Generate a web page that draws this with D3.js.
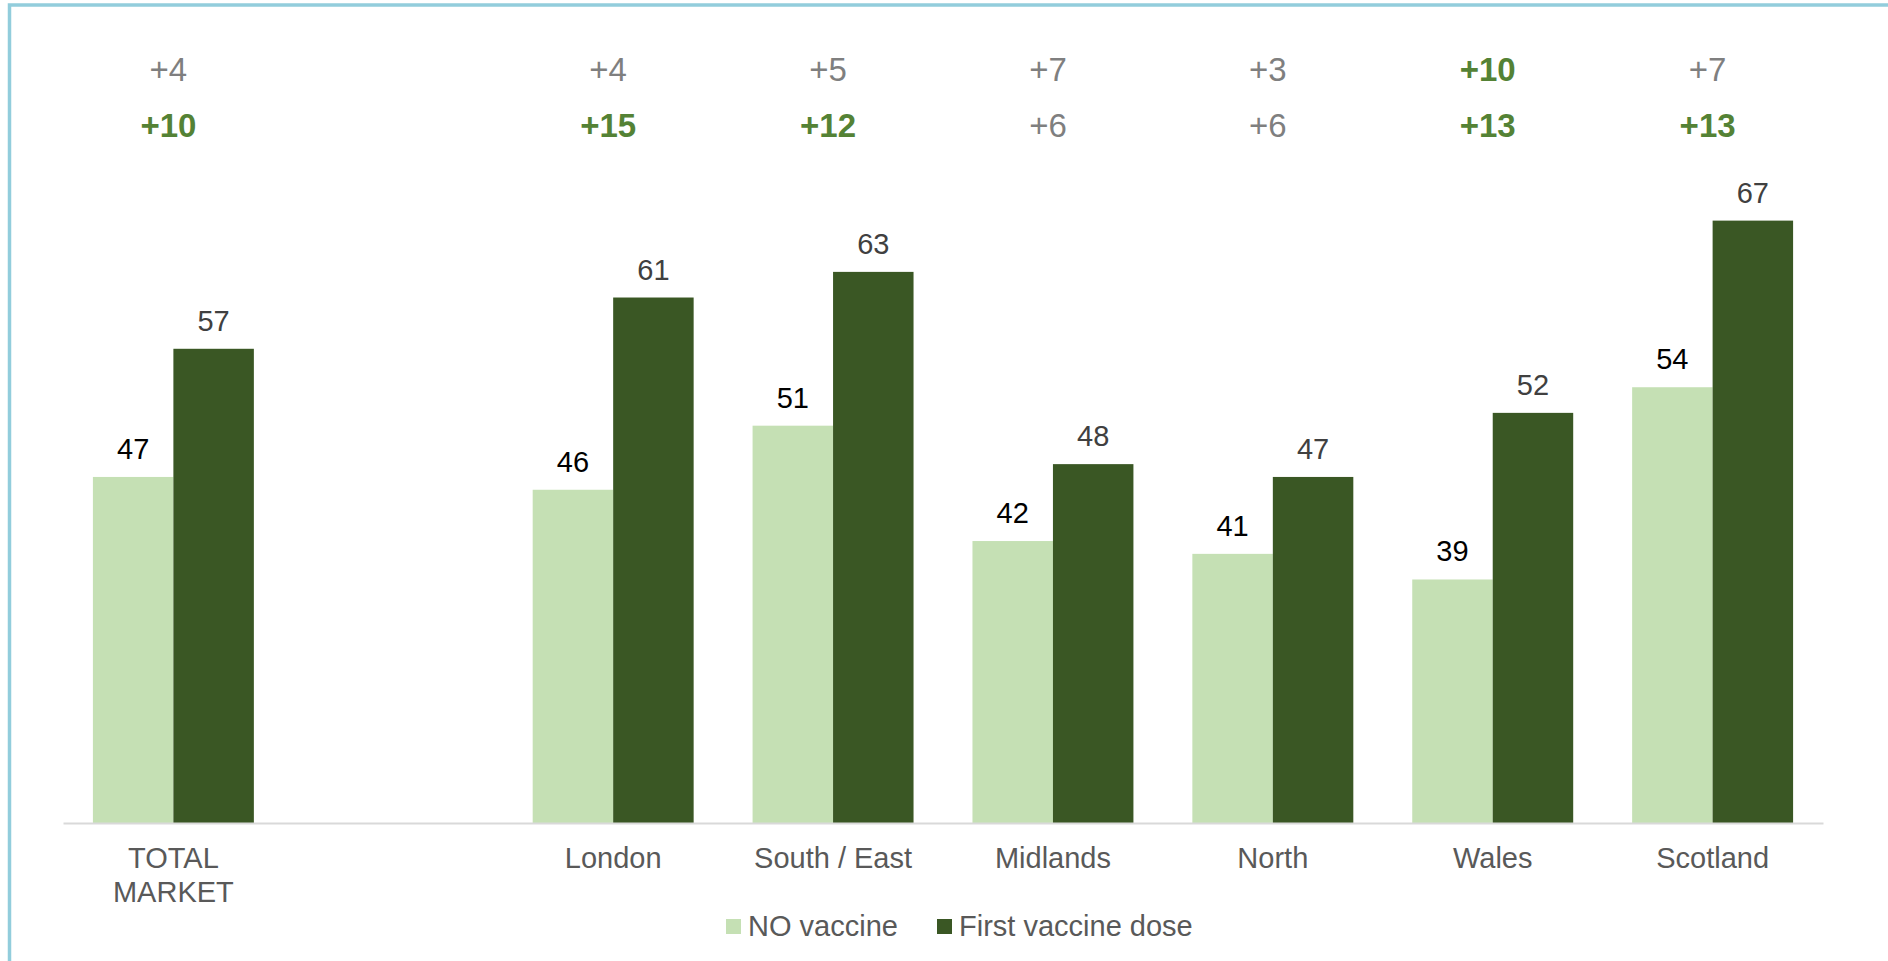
<!DOCTYPE html>
<html>
<head>
<meta charset="utf-8">
<script src="https://cdn.jsdelivr.net/npm/d3@7"></script>
<style>
  html, body { margin: 0; padding: 0; background: #ffffff; }
  svg { display: block; font-family: "Liberation Sans", Arial, sans-serif; }
</style>
</head>
<body>
<svg id="chart" width="1888" height="961"></svg>
<script>
// ---- data ----
const categories = ["TOTAL MARKET", "", "London", "South / East", "Midlands", "North", "Wales", "Scotland"];
const categoryLines = [["TOTAL", "MARKET"], [], ["London"], ["South / East"], ["Midlands"], ["North"], ["Wales"], ["Scotland"]];
const seriesNames = ["NO vaccine", "First vaccine dose"];
const noVaccine = [47, null, 46, 51, 42, 41, 39, 54];
const firstDose = [57, null, 61, 63, 48, 47, 52, 67];
const deltaRow1 = ["+4", "", "+4", "+5", "+7", "+3", "+10", "+7"];
const deltaRow1Bold = [false, false, false, false, false, false, true, false];
const deltaRow2 = ["+10", "", "+15", "+12", "+6", "+6", "+13", "+13"];
const deltaRow2Bold = [true, false, true, true, false, false, true, true];
const yDomain = [20, 80];

// ---- style ----
const colors = ["#c5e0b4", "#3a5724"];
const labelColors = ["#000000", "#404040"];
const gray = "#7f7f7f", green = "#548235", catColor = "#595959";

const svg = d3.select("#chart");

// frame
svg.append("rect")
  .attr("x", 9.5).attr("y", 5).attr("width", 1950).attr("height", 1050)
  .attr("fill", "none").attr("stroke", "#92cddc").attr("stroke-width", 3.5);

const x0 = d3.scaleBand().domain(categories).range([63, 1823])
  .paddingInner(0.268).paddingOuter(0.136);
const x1 = d3.scaleBand().domain(seriesNames).range([0, x0.bandwidth()]);
const y = d3.scaleLinear().domain(yDomain).range([823, 54]);

const series = [noVaccine, firstDose];
const rows = [];
categories.forEach((c, i) => {
  series.forEach((s, j) => {
    if (s[i] != null) rows.push({cat: c, name: seriesNames[j], j, v: s[i]});
  });
});

// bars
svg.append("g").selectAll("rect").data(rows).join("rect")
  .attr("x", d => x0(d.cat) + x1(d.name))
  .attr("width", x1.bandwidth())
  .attr("y", d => y(d.v))
  .attr("height", d => y(yDomain[0]) - y(d.v))
  .attr("fill", d => colors[d.j]);

// value labels
svg.append("g").selectAll("text").data(rows).join("text")
  .attr("x", d => x0(d.cat) + x1(d.name) + x1.bandwidth() / 2)
  .attr("y", d => y(d.v) - 18)
  .attr("text-anchor", "middle")
  .attr("font-size", 29)
  .attr("fill", d => labelColors[d.j])
  .text(d => d.v);

// axis line
const xAxis = svg.append("g").attr("transform", `translate(0,${y(yDomain[0])})`)
  .call(d3.axisBottom(x0).tickSize(0).tickFormat(""));
xAxis.select(".domain").attr("stroke", "#d9d9d9").attr("stroke-width", 2);

// category labels
const catG = svg.append("g");
categories.forEach((c, i) => {
  const t = catG.append("text")
    .attr("x", x0(c) + x0.bandwidth() / 2)
    .attr("y", 868)
    .attr("text-anchor", "middle")
    .attr("font-size", 29)
    .attr("fill", catColor);
  categoryLines[i].forEach((ln, k) => {
    t.append("tspan").attr("x", x0(c) + x0.bandwidth() / 2)
      .attr("dy", k === 0 ? 0 : 34).text(ln);
  });
});

// delta rows
function deltaRow(vals, bolds, baseY) {
  svg.append("g").selectAll("text").data(categories).join("text")
    .attr("x", c => x0(c) + x0.bandwidth() / 2 - 5)
    .attr("y", baseY)
    .attr("text-anchor", "middle")
    .attr("font-size", 33)
    .attr("font-weight", (c, i) => bolds[i] ? "bold" : "normal")
    .attr("fill", (c, i) => bolds[i] ? green : gray)
    .text((c, i) => vals[i]);
}
deltaRow(deltaRow1, deltaRow1Bold, 81);
deltaRow(deltaRow2, deltaRow2Bold, 137);

// legend
const legend = svg.append("g");
const legendX = [726, 937];
seriesNames.forEach((n, j) => {
  legend.append("rect").attr("x", legendX[j]).attr("y", 919)
    .attr("width", 15).attr("height", 15).attr("fill", colors[j]);
  legend.append("text").attr("x", legendX[j] + 22).attr("y", 936)
    .attr("font-size", 29).attr("fill", catColor).text(n);
});
</script>
</body>
</html>
